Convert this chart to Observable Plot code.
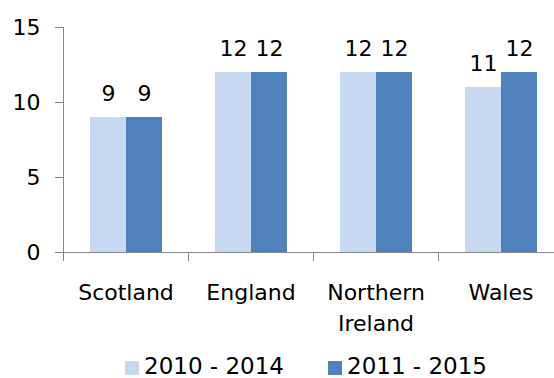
<!DOCTYPE html>
<html>
<head>
<meta charset="utf-8">
<script src="https://cdn.jsdelivr.net/npm/d3@7"></script>
<script src="https://cdn.jsdelivr.net/npm/@observablehq/plot@0.6"></script>
<style>
  body { margin: 0; background: #fff; font-family: "DejaVu Sans", sans-serif; }
  #wrap { position: relative; width: 554px; height: 378px; overflow: hidden; }
  #legend { position: absolute; left: 125px; top: 355px; height: 23px; line-height: 23px; display: flex; align-items: center; font-size: 23px; color: #000; white-space: nowrap; }
  .item { display: flex; align-items: center; margin-right: 44px; }
  .sw { width: 14px; height: 14px; margin-right: 5px; margin-top: 2px; }
</style>
</head>
<body>
<div id="wrap"><div id="chart"></div><div id="legend"></div></div>
<script>
const categories = ["Scotland", "England", "Northern Ireland", "Wales"];
const categoryLabels = ["Scotland", "England", "Northern\nIreland", "Wales"];
const series = ["2010 - 2014", "2011 - 2015"];
const values2010_2014 = [9, 12, 12, 11];
const values2011_2015 = [9, 12, 12, 12];
const colors = ["#c6d9f0", "#4f81bd"];
const yTicks = [0, 5, 10, 15];

const rows = categories.flatMap((c, i) => [
  {category: c, series: series[0], value: values2010_2014[i]},
  {category: c, series: series[1], value: values2011_2015[i]}
]);

const gray = "#868686";
const W = 554, H = 340, mT = 27, mB = 88, mL = 63, mR = -9;
const innerH = H - mT - mB;

const chart = Plot.plot({
  width: W, height: H,
  marginTop: mT, marginBottom: mB, marginLeft: mL, marginRight: mR,
  style: {fontFamily: '"DejaVu Sans", sans-serif', fontSize: "22px", color: "#000", background: "#fff", overflow: "visible"},
  fx: {domain: categories, padding: 0, axis: null},
  x: {domain: series, paddingInner: 0, paddingOuter: 0.736, axis: null},
  y: {domain: [0, 15]},
  color: {domain: series, range: colors},
  marks: [
    Plot.barY(rows, {fx: "category", x: "series", y: "value", fill: "series"}),
    Plot.ruleY([0], {stroke: gray}),
    Plot.frame({anchor: "left", facetAnchor: "left", stroke: gray}),
    Plot.frame({anchor: "left", stroke: gray, insetTop: innerH, insetBottom: -8}),
    Plot.axisY({ticks: yTicks, tickSize: 8, tickPadding: 15, stroke: gray, fill: "#000", label: null, fontSize: 22}),
    Plot.text(rows, {fx: "category", x: "series", y: "value", text: "value", lineAnchor: "bottom", dy: -17, fill: "#000", fontSize: 22}),
    Plot.text(categories, {fx: d => d, text: (d, i) => categoryLabels[i], frameAnchor: "bottom", lineAnchor: "top", dy: 25, lineHeight: 1.41, fill: "#000", fontSize: 22})
  ]
});
document.getElementById("chart").appendChild(chart);

const legend = document.getElementById("legend");
series.forEach((s, i) => {
  const item = document.createElement("div");
  item.className = "item";
  const sw = document.createElement("span");
  sw.className = "sw";
  sw.style.background = colors[i];
  const label = document.createElement("span");
  label.textContent = s;
  item.appendChild(sw);
  item.appendChild(label);
  legend.appendChild(item);
});
</script>
</body>
</html>
